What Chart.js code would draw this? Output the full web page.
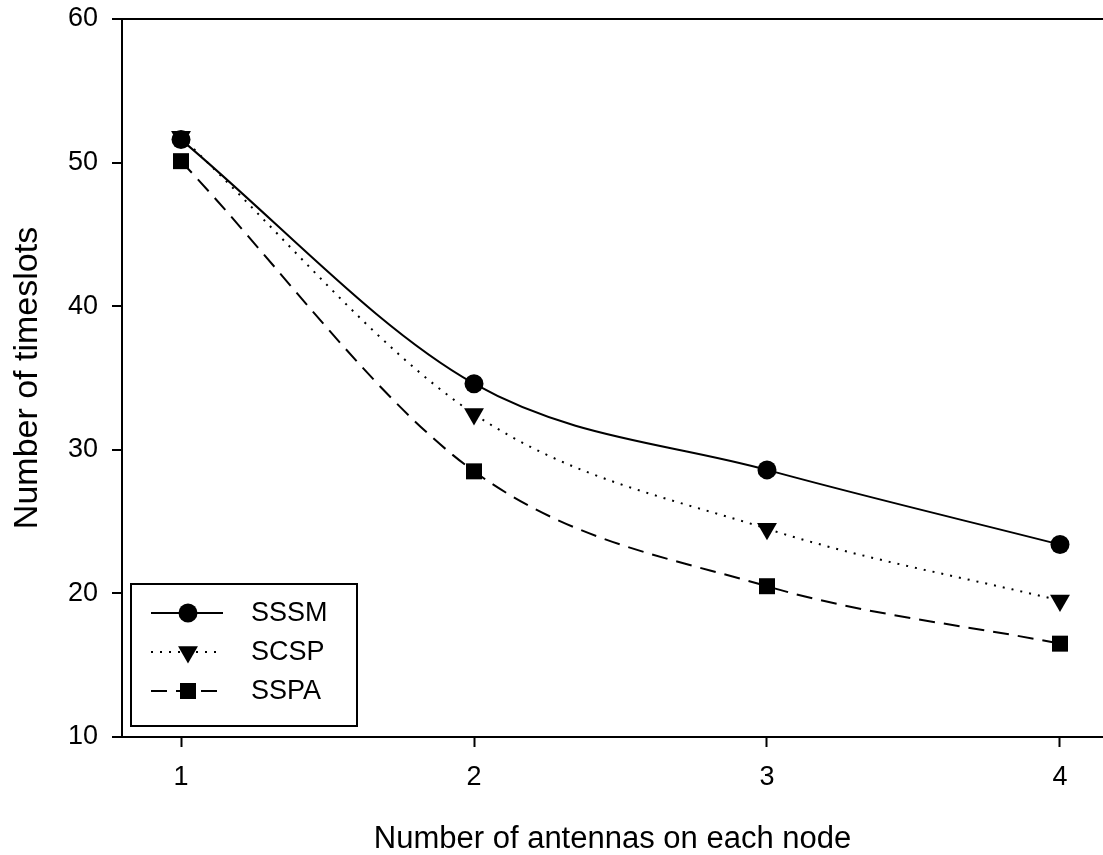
<!DOCTYPE html>
<html><head><meta charset="utf-8">
<script src="https://cdn.jsdelivr.net/npm/chart.js@4"></script>
<style>html,body{margin:0;padding:0;background:#fff;overflow:hidden;}#wrap{width:1103px;height:855px;}canvas{display:block;}</style>
</head><body><div id="wrap"><canvas id="c" width="1103" height="855"></canvas></div>
<script>
const antennas = [1, 2, 3, 4];
const sssm = [51.6, 34.6, 28.6, 23.4];
const scsp = [51.8, 32.5, 24.5, 19.5];
const sspa = [50.1, 28.5, 20.5, 16.5];
const seriesNames = ['SSSM', 'SCSP', 'SSPA'];
const yTicks = [10, 20, 30, 40, 50, 60];
const xTicks = [1, 2, 3, 4];
const xTitle = 'Number of antennas on each node';
const yTitle = 'Number of timeslots';

const FONT = 'Liberation Sans, Arial, sans-serif';
function pts(vals) { return antennas.map((a, i) => ({x: a, y: vals[i]})); }

const styles = [
  {pointStyle: 'circle', pointRadius: 9.5, rotation: 0, dash: []},
  {pointStyle: 'triangle', pointRadius: 11.5, rotation: 180, dash: [2, 7]},
  {pointStyle: 'rect', pointRadius: 11.3, rotation: 0, dash: [16, 9]}
];
const allVals = [sssm, scsp, sspa];

const datasets = allVals.map((v, i) => ({
  label: seriesNames[i],
  data: pts(v),
  borderColor: '#000',
  backgroundColor: '#000',
  borderWidth: 2,
  borderDash: styles[i].dash,
  pointStyle: styles[i].pointStyle,
  pointRadius: styles[i].pointRadius,
  pointRotation: styles[i].rotation,
  pointBorderWidth: 0,
  pointBackgroundColor: '#000',
  cubicInterpolationMode: 'monotone',
  fill: false
}));

const legendPlugin = {
  id: 'boxLegend',
  afterDraw(chart) {
    const ctx = chart.ctx;
    ctx.save();
    ctx.strokeStyle = '#000';
    ctx.lineWidth = 2;
    ctx.setLineDash([]);
    ctx.strokeRect(131, 584, 226, 142);
    const rows = [613, 652, 691];
    rows.forEach((y, i) => {
      ctx.beginPath();
      ctx.setLineDash(styles[i].dash);
      ctx.lineWidth = 2;
      ctx.moveTo(151, y);
      ctx.lineTo(223, y);
      ctx.stroke();
      ctx.setLineDash([]);
      Chart.helpers.drawPoint(ctx, {
        pointStyle: styles[i].pointStyle,
        radius: styles[i].pointRadius,
        rotation: styles[i].rotation,
        borderWidth: 0
      }, 188, y);
      ctx.fillStyle = '#000';
      ctx.font = '27px ' + FONT;
      ctx.textBaseline = 'middle';
      ctx.textAlign = 'left';
      ctx.fillText(seriesNames[i], 251, y + 1);
    });
    ctx.restore();
  }
};

new Chart(document.getElementById('c'), {
  type: 'line',
  data: {datasets},
  plugins: [legendPlugin],
  options: {
    responsive: false,
    devicePixelRatio: 1,
    animation: false,
    layout: {autoPadding: false, padding: {top: 19, right: 0, bottom: 0, left: 0}},
    plugins: {legend: {display: false}, tooltip: {enabled: false}},
    elements: {point: {backgroundColor: '#000', borderColor: '#000'}},
    scales: {
      x: {
        type: 'linear',
        min: 0.7986, max: 4.1468,
        afterBuildTicks: s => { s.ticks = xTicks.map(v => ({value: v})); },
        afterFit: s => { s.height = 118; s.paddingLeft = 0; s.paddingRight = 0; },
        grid: {display: true, drawOnChartArea: false, drawTicks: true, tickLength: 10, tickColor: '#000', tickWidth: 2},
        border: {display: true, color: '#000', width: 2},
        ticks: {color: '#000', font: {family: FONT, size: 27}, padding: 14, maxRotation: 0},
        title: {display: true, text: xTitle, color: '#000', font: {family: FONT, size: 31, lineHeight: 1}, padding: {top: 0, bottom: 0}}
      },
      y: {
        type: 'linear',
        min: 10, max: 60,
        afterBuildTicks: s => { s.ticks = yTicks.map(v => ({value: v})); },
        afterFit: s => { s.width = 122; s.paddingTop = 0; s.paddingBottom = 0; },
        grid: {
          display: true, drawOnChartArea: true, drawTicks: true, tickLength: 10, tickWidth: 2, lineWidth: 2,
          tickColor: '#000',
          color: c => (c.tick && c.tick.value === 60) ? '#000' : 'rgba(0,0,0,0)'
        },
        border: {display: true, color: '#000', width: 2},
        ticks: {color: '#000', font: {family: FONT, size: 27}, padding: 14},
        title: {display: true, text: yTitle, color: '#000', font: {family: FONT, size: 34, lineHeight: 1}, padding: {top: 11, bottom: 0}}
      }
    }
  }
});
</script></body></html>
